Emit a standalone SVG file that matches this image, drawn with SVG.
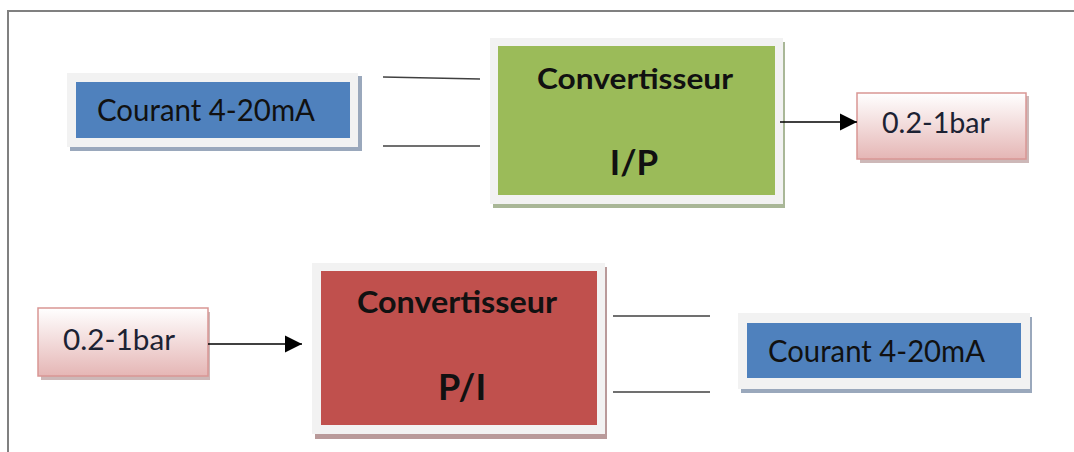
<svg xmlns="http://www.w3.org/2000/svg" width="1074" height="452" viewBox="0 0 1074 452">
  <defs>
    <linearGradient id="pinkGrad" x1="0" y1="0" x2="0" y2="1">
      <stop offset="0" stop-color="#ffffff"/>
      <stop offset="1" stop-color="#e5b6b5"/>
    </linearGradient>
    <marker id="arrow" viewBox="0 0 10 10" refX="10" refY="5" markerWidth="17" markerHeight="18" markerUnits="userSpaceOnUse" orient="auto">
      <path d="M0,0 L10,5 L0,10 Z" fill="#000"/>
    </marker>
  </defs>
  <style>
    .frame { fill: none; stroke: #808080; stroke-width: 2; }
    .outer { fill: #f2f2f2; }
    .blue { fill: #4f81bd; }
    .green { fill: #9bbb59; }
    .red { fill: #c0504d; }
    .pink { fill: url(#pinkGrad); stroke: #d99694; stroke-width: 1.5; }
    .lbl { font-family: Lato, "Liberation Sans", sans-serif; fill: #111; }
    .bold { font-weight: bold; text-anchor: middle; }
    .bar { fill: #1c2233; }
    .wire { stroke: #404040; stroke-width: 1.5; fill: none; }
    .arr { stroke: #000; stroke-width: 1.5; fill: none; }
  </style>
  <rect width="1074" height="452" fill="#ffffff"/>
  <path class="frame" d="M8,452 V11 H1074"/>

  <g id="courant-top">
    <rect x="70" y="76" width="292" height="75" fill="#9aa8bc"/>
    <rect class="outer" x="67" y="73" width="291" height="74"/>
    <rect class="blue" x="76" y="82" width="274" height="56"/>
    <text class="lbl" x="97" y="121" font-size="30" textLength="218" lengthAdjust="spacingAndGlyphs">Courant 4-20mA</text>
  </g>

  <g id="convertisseur-ip">
    <rect x="493" y="42" width="292" height="166" fill="#a9b797"/>
    <rect class="outer" x="490" y="38" width="293" height="166"/>
    <rect class="green" x="498" y="46" width="277" height="149"/>
    <text class="lbl bold" x="635" y="89" font-size="29" textLength="196" lengthAdjust="spacingAndGlyphs">Convertisseur</text>
    <text class="lbl bold" x="634" y="175" font-size="35">I/P</text>
  </g>

  <g id="bar-top">
    <rect x="860" y="96" width="169" height="67" fill="#cdb8b8"/>
    <rect class="pink" x="857" y="93" width="169" height="66"/>
    <text class="lbl bar" x="882" y="133" font-size="29" textLength="108" lengthAdjust="spacingAndGlyphs">0.2-1bar</text>
  </g>

  <g id="bar-bottom">
    <rect x="41" y="312" width="169" height="68" fill="#cdb8b8"/>
    <rect class="pink" x="38" y="308" width="170" height="68"/>
    <text class="lbl bar" x="63" y="350" font-size="29" textLength="112" lengthAdjust="spacingAndGlyphs">0.2-1bar</text>
  </g>

  <g id="convertisseur-pi">
    <rect x="315" y="267" width="292" height="172" fill="#b99a9a"/>
    <rect class="outer" x="312" y="263" width="293" height="171"/>
    <rect class="red" x="321" y="271" width="276" height="154"/>
    <text class="lbl bold" x="457" y="313" font-size="30" textLength="200" lengthAdjust="spacingAndGlyphs">Convertisseur</text>
    <text class="lbl bold" x="462" y="400" font-size="36">P/I</text>
  </g>

  <g id="courant-bottom">
    <rect x="741" y="317" width="291" height="76" fill="#9aa8bc"/>
    <rect class="outer" x="738" y="313" width="292" height="76"/>
    <rect class="blue" x="747" y="323" width="274" height="55"/>
    <text class="lbl" x="768" y="362" font-size="30" textLength="217" lengthAdjust="spacingAndGlyphs">Courant 4-20mA</text>
  </g>

  <g id="connectors">
    <line class="wire" x1="383" y1="77" x2="480" y2="79"/>
    <line class="wire" x1="383" y1="146" x2="480" y2="146"/>
    <line class="arr" x1="780" y1="122" x2="857" y2="122" marker-end="url(#arrow)"/>
    <line class="arr" x1="208" y1="344" x2="302" y2="344" marker-end="url(#arrow)"/>
    <line class="wire" x1="613" y1="316" x2="710" y2="316"/>
    <line class="wire" x1="613" y1="392" x2="710" y2="392"/>
  </g>
</svg>
